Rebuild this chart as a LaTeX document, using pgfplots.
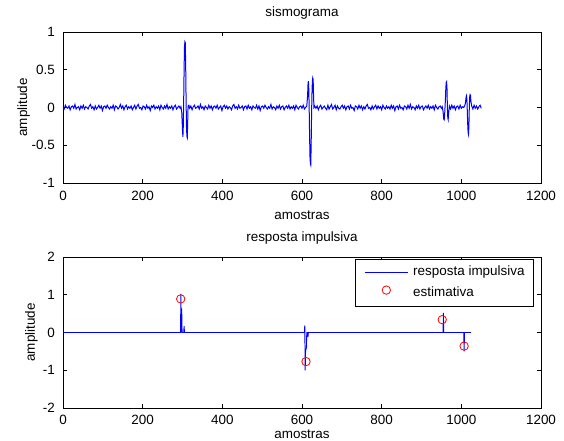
\documentclass[border=0pt]{standalone}
\usepackage{pgfplots}
\pgfplotsset{compat=1.18}
\usepackage{fontspec}
\setmainfont{Liberation Sans}
\newcommand{\ff}{\fontsize{13.5}{16}\selectfont}

\pgfplotstableread{
x y
0 0.01
3 -0.02
6 0.03
9 0.00
12 -0.01
15 0.02
18 -0.03
21 0.01
24 0.02
27 -0.01
30 0.04
33 -0.02
36 0.00
39 0.01
42 -0.03
45 0.02
48 -0.01
51 0.03
54 -0.02
57 0.01
60 0.00
63 -0.02
66 0.02
69 0.04
72 -0.01
75 0.01
78 -0.03
81 0.02
84 -0.02
87 0.00
90 0.03
93 -0.01
96 0.02
99 -0.04
102 0.01
105 0.02
108 -0.01
111 0.03
114 0.00
117 -0.02
120 0.01
123 -0.01
126 0.03
129 -0.03
132 0.02
135 0.01
138 -0.02
141 0.00
144 0.04
147 -0.01
150 0.02
153 -0.03
156 0.01
159 0.03
162 -0.02
165 0.01
168 -0.01
171 0.02
174 -0.03
177 0.00
180 0.03
183 -0.02
186 0.02
189 0.04
192 -0.01
195 0.00
198 -0.03
201 0.02
204 0.01
207 -0.02
210 0.03
213 -0.01
216 0.01
219 -0.04
222 0.02
225 0.00
228 0.03
231 -0.02
234 0.01
237 -0.01
240 0.02
243 -0.03
246 0.03
249 0.00
252 -0.02
255 0.02
258 -0.01
261 0.04
264 -0.02
267 0.01
270 -0.01
273 0.02
276 -0.03
279 0.01
282 0.03
285 -0.02
288 0.00
291 0.02
294 -0.01
296 0.01
298 -0.05
300 -0.30
301 -0.39
302 -0.25
303 0.10
304 0.50
305 0.80
306 0.87
307 0.86
308 0.55
309 0.10
310 -0.25
311 -0.38
312 -0.40
313 -0.20
314 0.02
316 0.03
318 -0.01
321 0.02
324 -0.03
327 0.01
330 0.03
333 -0.01
336 0.00
339 0.02
342 -0.02
345 0.04
348 -0.01
351 0.01
354 -0.03
357 0.02
360 0.00
363 -0.02
366 0.03
369 -0.01
372 0.02
375 -0.03
378 0.01
381 0.02
384 -0.01
387 0.03
390 -0.02
393 0.00
396 0.02
399 -0.04
402 0.01
405 0.03
408 -0.01
411 0.02
414 -0.02
417 0.01
420 0.00
423 -0.03
426 0.02
429 0.04
432 -0.01
435 0.01
438 -0.02
441 0.03
444 -0.01
447 0.00
450 0.02
453 -0.03
456 0.01
459 0.02
462 -0.02
465 0.03
468 -0.01
471 0.01
474 -0.03
477 0.02
480 0.00
483 -0.01
486 0.03
489 -0.02
492 0.02
495 -0.04
498 0.01
501 0.02
504 -0.01
507 0.03
510 0.00
513 -0.02
516 0.01
519 -0.01
522 0.04
525 -0.02
528 0.01
531 0.00
534 -0.03
537 0.02
540 -0.01
543 0.03
546 -0.02
549 0.01
552 0.02
555 -0.03
558 0.00
561 0.02
564 -0.01
567 0.03
570 -0.02
573 0.01
576 -0.01
579 0.02
582 -0.03
585 0.03
588 0.00
591 -0.02
594 0.01
597 0.02
600 -0.01
603 0.03
606 -0.02
609 0.00
612 0.02
614 0.15
615 0.30
616 0.35
617 0.25
618 0.00
619 -0.35
620 -0.65
621 -0.74
622 -0.76
623 -0.50
624 -0.10
625 0.18
626 0.34
627 0.39
628 0.37
629 0.15
630 0.00
632 0.02
635 -0.01
638 0.02
641 -0.03
644 0.01
647 0.03
650 -0.02
653 0.00
656 0.02
659 -0.01
662 -0.03
665 0.03
668 -0.02
671 0.01
674 0.04
677 -0.02
680 0.00
683 0.03
686 -0.03
689 0.02
692 -0.01
695 -0.02
698 0.01
701 0.03
704 -0.01
707 0.02
710 -0.03
713 0.01
716 0.02
719 -0.02
722 0.03
725 -0.01
728 0.00
731 -0.04
734 0.02
737 0.01
740 -0.02
743 0.03
746 -0.01
749 0.02
752 -0.03
755 0.01
758 -0.02
761 0.02
764 0.04
767 -0.01
770 0.00
773 -0.03
776 0.02
779 -0.02
782 0.01
785 0.03
788 -0.02
791 0.02
794 -0.01
797 0.01
800 -0.03
803 0.03
806 0.00
809 -0.02
812 0.02
815 -0.01
818 0.01
821 -0.02
824 0.03
827 -0.01
830 0.02
833 -0.04
836 0.01
839 0.02
842 -0.02
845 0.03
848 -0.01
851 0.00
854 -0.03
857 0.02
860 0.01
863 -0.02
866 0.03
869 -0.01
872 0.04
875 -0.02
878 0.01
881 0.00
884 -0.03
887 0.02
890 -0.01
893 0.03
896 -0.02
899 0.01
902 0.02
905 -0.03
908 0.00
911 0.02
914 -0.01
917 0.03
920 -0.02
923 0.01
926 -0.01
929 0.02
932 -0.03
935 0.03
938 0.00
941 -0.02
944 0.01
947 0.02
950 -0.01
952 0.01
954 -0.05
956 -0.16
957 -0.165
958 -0.10
960 0.10
961 0.25
962 0.33
963 0.34
964 0.25
965 0.00
966 -0.14
967 -0.16
968 -0.08
970 0.02
973 -0.02
976 0.03
979 -0.01
982 0.02
985 -0.03
988 0.01
991 0.02
994 -0.02
997 0.03
1000 -0.01
1003 0.01
1006 0.00
1008 0.02
1010 0.05
1012 0.14
1013 0.156
1014 0.10
1015 -0.05
1016 -0.22
1017 -0.33
1018 -0.355
1019 -0.25
1020 0.00
1021 0.14
1022 0.17
1023 0.16
1024 0.08
1026 0.02
1029 -0.02
1032 0.03
1035 -0.01
1038 0.02
1041 -0.02
1044 0.01
1047 0.03
1050 -0.01
}\sismo

\pgfplotstableread{
x y
0 0
295 0
296 1.02
297 0
298 0.63
299 0
303 0
304 0.17
305 0
606 0
607 0.19
608 -1.00
609 -0.48
610 -0.45
611 -0.40
612 0
614 0
615 -0.12
616 0
954 0
955 0.52
956 0
1006 0
1007 -0.50
1008 0
1024 0
}\impulso

\pgfplotstableread{
x y
295.5 0.89
610 -0.77
952 0.34
1007 -0.36
}\estim

\pgfplotsset{
  lineleg/.style={legend image code/.code={%
    \pgfsetlinewidth{0.8bp}\pgfsetstrokecolor{blue}\color{blue}%
    \pgfpathmoveto{\pgfqpoint{0bp}{0.6ex}}\pgfpathlineto{\pgfqpoint{43bp}{0.6ex}}\pgfusepath{stroke}}},
  markleg/.style={legend image code/.code={\draw[##1] plot coordinates {(21.5bp,0.6ex)};}},
  myax/.style={
  scale only axis, width=478bp, height=151bp, anchor=south west,
  xmin=0, xmax=1200, xtick={0,200,400,600,800,1000,1200},
  xticklabels={0,200,400,600,800,1000,1200},
  tick align=inside, tick pos=both, major tick length=4bp,
  axis line style={line width=0.8bp, black},
  every tick/.style={black, line width=0.8bp},
  tick label style={font=\ff, inner sep=0pt},
  xticklabel style={anchor=base, yshift=-18bp},
  yticklabel style={anchor=east, xshift=-8bp},
  title style={font=\ff, at={(axis description cs:0.5,1)}, anchor=base, yshift=10bp, inner sep=0pt},
  xlabel style={font=\ff, at={(axis description cs:0.5,0)}, anchor=base, inner sep=0pt},
  ylabel style={font=\ff, rotate=0, anchor=base, inner sep=0pt},
}}

\begin{document}
\begin{tikzpicture}
\useasboundingbox (0,0) rectangle (564bp,441bp);
\begin{axis}[myax, at={(63bp,258bp)},
  ymin=-1, ymax=1, ytick={-1,-0.5,0,0.5,1}, yticklabels={-1,-0.5,0,0.5,1},
  title={sismograma}, xlabel={amostras}, ylabel={amplitude},
  xlabel style={yshift=-37bp},
  ylabel style={at={(axis description cs:-0.0753,0.5)}},
]
\addplot[blue, line width=1bp, mark=none] table[x=x,y=y] {\sismo};
\end{axis}
\begin{axis}[myax, at={(63bp,33bp)},
  ymin=-2, ymax=2, ytick={-2,-1,0,1,2}, yticklabels={-2,-1,0,1,2},
  title={resposta impulsiva}, xlabel={amostras}, ylabel={amplitude},
  xlabel style={yshift=-30bp},
  xticklabel style={yshift=2bp},
  ylabel style={at={(axis description cs:-0.0586,0.5)}},
  legend cell align=left,
  legend style={at={(axis description cs:1,1)}, anchor=north east, xshift=-7bp, yshift=-2bp,
    draw=black, line width=0.8bp, fill=white, font=\ff,
    inner xsep=9bp, inner ysep=6.5bp, row sep=7bp, column sep=5bp,
    nodes={inner sep=0pt, text height=10bp, text depth=3bp}},
]
\addplot[blue, line width=0.9bp, mark=none, lineleg] table[x=x,y=y] {\impulso};
\addlegendentry{resposta impulsiva}
\addplot[only marks, red, mark=o, mark size=4.2bp, mark options={line width=0.8bp}, markleg] table[x=x,y=y] {\estim};
\addlegendentry{estimativa}
\end{axis}
\end{tikzpicture}
\end{document}
